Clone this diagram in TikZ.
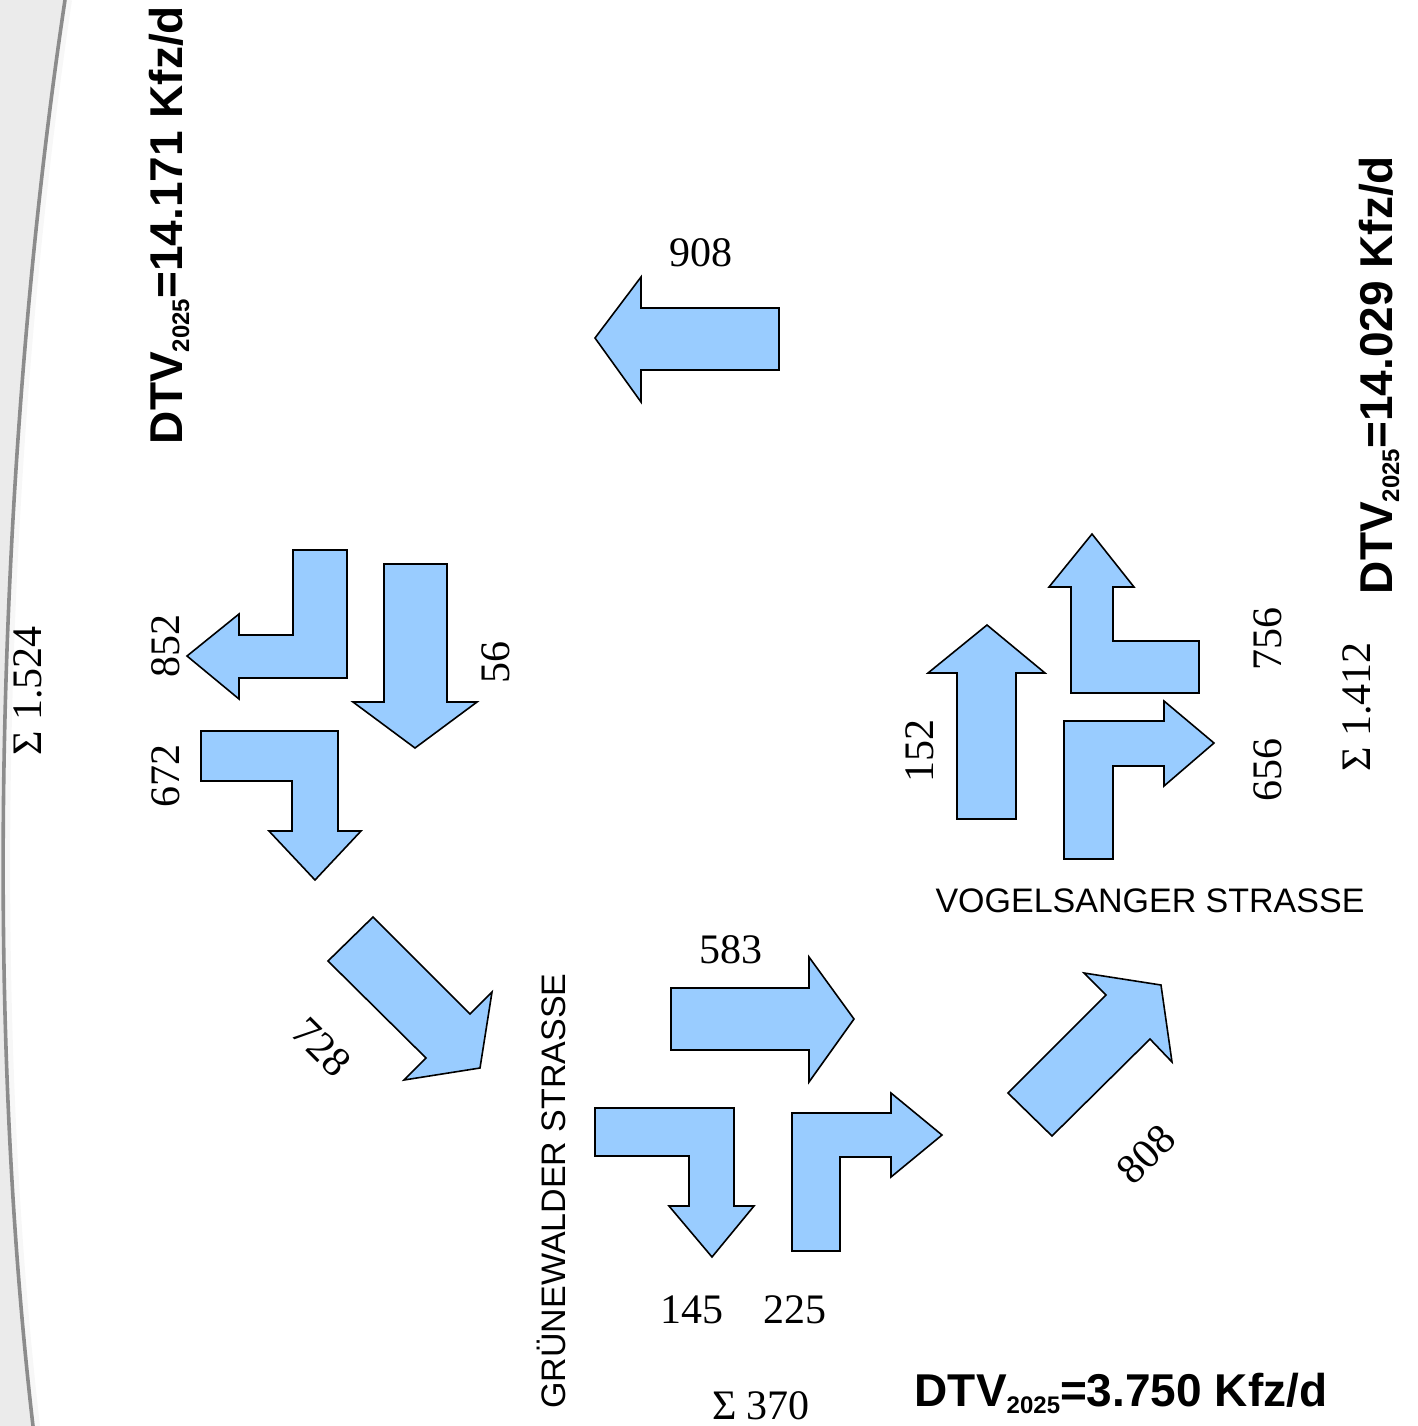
\documentclass[tikz,border=0pt]{standalone}
\usepackage{fontspec}
\usepackage{xcolor}
\setmainfont{Liberation Serif}
\setsansfont{Liberation Sans}

\definecolor{flowblue}{HTML}{99CCFF}
\newcommand{\dtvtext}[1]{\bfseries DTV\raisebox{-3.5pt}{\fontsize{12}{12}\selectfont 2025}=#1 Kfz/d}

\begin{document}
\begin{tikzpicture}[x=0.5pt, y=-0.5pt,
    flow/.style={fill=flowblue, draw=black, line width=0.8pt, line join=miter},
    count/.style={font=\fontsize{21}{25}\selectfont, inner sep=0pt},
    street/.style={font=\sffamily\fontsize{17}{20}\selectfont, inner sep=0pt, anchor=base},
    dtv/.style={font=\sffamily\fontsize{23}{27}\selectfont, inner sep=0pt, anchor=base}]
    \useasboundingbox (0,0) rectangle (1418,1426);

    % page edge on the left
    \fill[black!8] (0,0) -- (65,0) .. controls (5,400) and (-22,950) .. (33,1426) -- (0,1426) -- cycle;
    \draw[black!3, line width=3pt] (69,0) .. controls (9,400) and (-18,950) .. (37,1426);
    \draw[black!45, line width=1.8pt] (65,0) .. controls (5,400) and (-22,950) .. (33,1426);

    % north arm
    \draw[flow] (779,308) -- (641,308) -- (641,277) -- (595,338) -- (641,402) -- (641,370) -- (779,370) -- cycle;

    % west arm
    \draw[flow] (293,550) -- (347,550) -- (347,678) -- (239,678) -- (239,699) -- (187,656) -- (239,614) -- (239,635) -- (293,635) -- cycle;
    \draw[flow] (384,564) -- (447,564) -- (447,702) -- (477,702) -- (415,748) -- (353,702) -- (384,702) -- cycle;
    \draw[flow] (201,731) -- (338,731) -- (338,831) -- (361,831) -- (315,880) -- (269,831) -- (292,831) -- (292,781) -- (201,781) -- cycle;
    \draw[flow] (328,961) -- (373,917) -- (470,1014) -- (492,992) -- (480,1068) -- (404,1080) -- (426,1058) -- cycle;

    % south arm
    \draw[flow] (671,988) -- (809,988) -- (809,957) -- (854,1019) -- (809,1082) -- (809,1050) -- (671,1050) -- cycle;
    \draw[flow] (595,1108) -- (734,1108) -- (734,1206) -- (754,1206) -- (712,1257) -- (669,1206) -- (689,1206) -- (689,1156) -- (595,1156) -- cycle;
    \draw[flow] (792,1251) -- (792,1113) -- (891,1113) -- (891,1093) -- (942,1135) -- (891,1177) -- (891,1157) -- (840,1157) -- (840,1251) -- cycle;
    \draw[flow] (1008,1093) -- (1106,995) -- (1084,973) -- (1161,985) -- (1172,1062) -- (1150,1039) -- (1052,1136) -- cycle;

    % east arm
    \draw[flow] (957,819) -- (957,673) -- (928,673) -- (987,625) -- (1045,673) -- (1016,673) -- (1016,819) -- cycle;
    \draw[flow] (1199,641) -- (1199,693) -- (1071,693) -- (1071,587) -- (1049,587) -- (1092,534) -- (1134,587) -- (1113,587) -- (1113,641) -- cycle;
    \draw[flow] (1064,859) -- (1064,721) -- (1164,721) -- (1164,701) -- (1214,743) -- (1164,786) -- (1164,766) -- (1113,766) -- (1113,859) -- cycle;

    % volumes
    \node[count] (n908) at (701,253) {908};
    \node[count] (n583) at (731,950) {583};
    \node[count] (n145) at (692,1310) {145};
    \node[count] (n225) at (795,1310) {225};
    \node[count] (sumS) at (761,1406) {Σ 370};
    \node[count, rotate=-45] (n728) at (322,1047) {728};
    \node[count, rotate=45] (n808) at (1146,1154) {808};
    \foreach \name/\pos/\txt in {n852/{166,646}/852, n672/{166,776}/672, n56/{496,662}/56,
        n152/{920,751}/152, n756/{1268,639}/756, n656/{1268,770}/656,
        sumW/{28,691}/Σ 1.524, sumE/{1357,707}/Σ 1.412}
        \node[count, rotate=90] (\name) at (\pos) {\txt};

    % street names
    \node[street] (vogel) at (1150,912) {VOGELSANGER STRASSE};
    \node[street, rotate=90] (gruen) at (565,1191) {GRÜNEWALDER STRASSE};

    % daily traffic
    \node[dtv, rotate=90] (dtvW) at (182,225) {\dtvtext{14.171}};
    \node[dtv, rotate=90] (dtvE) at (1392,375) {\dtvtext{14.029}};
    \node[dtv] (dtvS) at (1121,1406) {\dtvtext{3.750}};
\end{tikzpicture}
\end{document}
